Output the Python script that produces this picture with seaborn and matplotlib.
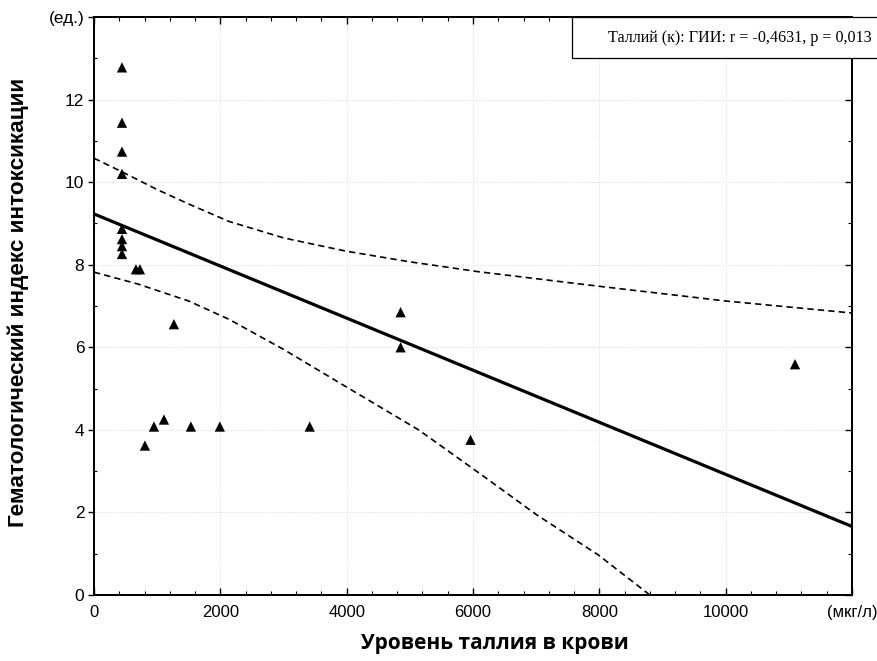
import numpy as np
import pandas as pd
import matplotlib
matplotlib.use("Agg")
import matplotlib.pyplot as plt
import seaborn as sns
from matplotlib.patches import Rectangle
from matplotlib.ticker import MultipleLocator

# points (thallium, mcg/l vs haematological index)
thallium = [443, 443, 443, 443, 443, 443, 443, 443, 664, 727, 1265, 806, 949,
            1107, 1534, 1992, 3415, 4854, 4854, 5960, 11098]
index_gii = [12.78, 11.44, 10.74, 10.2, 8.87, 8.62, 8.45, 8.26, 7.89, 7.89, 6.56,
             3.62, 4.08, 4.25, 4.08, 4.08, 4.08, 6.85, 6.0, 3.76, 5.59]

# fitted line and 95% band as drawn in the reference
fit_x = [0, 12000]
fit_y = [9.23, 1.66]
upper_x = [0, 443, 1000, 1500, 2134, 3000, 3984, 5000, 6087, 7984, 10008, 12000]
upper_y = [10.58, 10.25, 9.82, 9.47, 9.05, 8.65, 8.33, 8.07, 7.83, 7.48, 7.12, 6.83]
lower_x = [0, 700, 1500, 2134, 3000, 3984, 5138, 6200, 7000, 7984, 8800]
lower_y = [7.82, 7.53, 7.12, 6.68, 5.95, 5.05, 4.0, 2.84, 1.95, 0.97, 0.0]

x_ticks = [0, 2000, 4000, 6000, 8000, 10000, 12000]
x_labels = ["0", "2000", "4000", "6000", "8000", "10000", "(мкг/л)"]
y_ticks = [0, 2, 4, 6, 8, 10, 12, 14]
y_labels = ["0", "2", "4", "6", "8", "10", "12", "(ед.)"]

annotation = "Таллий (к): ГИИ: r = -0,4631, p = 0,013"

sns.set_style("ticks")
plt.rcParams["font.family"] = ["Liberation Sans", "DejaVu Sans"]
plt.rcParams.update({"text.color": "black", "axes.labelcolor": "black",
                     "xtick.color": "black", "ytick.color": "black",
                     "axes.edgecolor": "black"})

df = pd.DataFrame({"x": thallium, "y": index_gii})

fig = plt.figure(figsize=(8.77, 6.61), dpi=100)
ax = fig.add_axes([94 / 877, 1 - 595 / 661, (852 - 94) / 877, (595 - 17) / 661])

ax.grid(True, color="#d8d8d8", linestyle=":", linewidth=0.7)
ax.set_axisbelow(True)

sns.lineplot(x=fit_x, y=fit_y, ax=ax, color="black", linewidth=2.3)
sns.lineplot(x=upper_x, y=upper_y, ax=ax, color="black", linewidth=1.2,
             linestyle=(0, (3.8, 2.5)))
sns.lineplot(x=lower_x, y=lower_y, ax=ax, color="black", linewidth=1.2,
             linestyle=(0, (3.8, 2.5)))
sns.scatterplot(data=df, x="x", y="y", ax=ax, marker="^", color="black",
                s=55, edgecolor="none", zorder=5)

ax.set_xlim(0, 12000)
ax.set_ylim(0, 14)
ax.set_xticks(x_ticks)
ax.set_xticklabels(x_labels, fontsize=12)
ax.set_yticks(y_ticks)
ax.set_yticklabels(y_labels, fontsize=12.5)
ax.xaxis.set_minor_locator(MultipleLocator(400))
ax.yaxis.set_minor_locator(MultipleLocator(1))

ax.tick_params(axis="x", which="major", direction="in", length=5, width=1, pad=7)
ax.tick_params(axis="x", which="minor", direction="in", length=3, width=0.8)
ax.tick_params(axis="y", which="major", direction="out", length=4, width=1, pad=3)
ax.tick_params(axis="y", which="minor", direction="in", length=2.5, width=0.8)

# inward ticks on the top and right frame
tx = ax.twiny()
tx.set_xlim(ax.get_xlim())
tx.set_xticks(x_ticks)
tx.xaxis.set_minor_locator(MultipleLocator(400))
tx.tick_params(which="major", direction="in", length=5, width=1, labeltop=False)
tx.tick_params(which="minor", direction="in", length=3, width=0.8)
ty = ax.twinx()
ty.set_ylim(ax.get_ylim())
ty.set_yticks(y_ticks)
ty.yaxis.set_minor_locator(MultipleLocator(1))
ty.tick_params(which="major", direction="in", length=5, width=1, labelright=False)
ty.tick_params(which="minor", direction="in", length=3, width=0.8)
for a in (ax, tx, ty):
    for sp in a.spines.values():
        sp.set_linewidth(1.4)
        sp.set_color("black")

ax.set_xlabel("Уровень таллия в крови", fontsize=15, fontweight="bold",
              family=["Open Sans", "DejaVu Sans"])
ax.xaxis.set_label_coords(0.529, -0.066)
ax.set_ylabel("Гематологический индекс интоксикации", fontsize=16.2,
              fontweight="bold")
ax.yaxis.set_label_coords(-0.086, 0.507)

fig.patches.append(Rectangle((572 / 877, 1 - 58 / 661), 310 / 877, 41 / 661,
                             transform=fig.transFigure, facecolor="white",
                             edgecolor="black", linewidth=0.9, zorder=10))
fig.text(608 / 877, 1 - 38 / 661, annotation, fontsize=11.6, va="center",
         ha="left", family=["Liberation Serif", "DejaVu Serif"], zorder=11)

fig.savefig("out.png", dpi=100)
